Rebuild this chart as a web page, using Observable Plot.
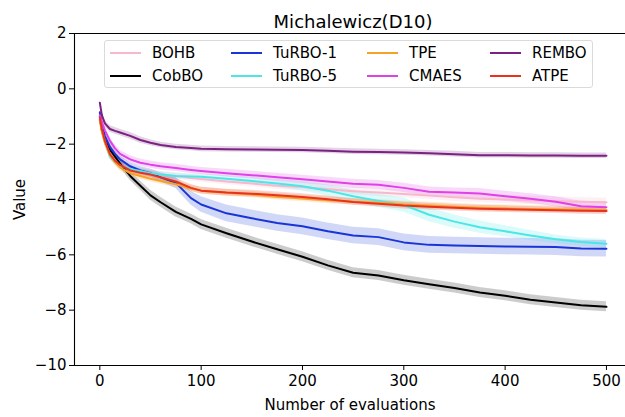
<!DOCTYPE html>
<html>
<head>
<meta charset="utf-8">
<script src="https://cdn.jsdelivr.net/npm/d3@7"></script>
<script src="https://cdn.jsdelivr.net/npm/@observablehq/plot@0.6"></script>
<style>
  body { margin: 0; background: #fff; }
  #wrap { position: relative; width: 625px; height: 417px; font-family: "DejaVu Sans", sans-serif; }
  #legend { position: absolute; left: 104px; top: 40px; width: 487px; height: 46px;
            border: 1px solid #dadada; border-radius: 3px; background: rgba(255,255,255,0.85); }
  .item { position: absolute; height: 20px; display: flex; align-items: center; font-size: 15px; color: #000; }
  .sw { width: 31px; height: 0; border-top: 2px solid; margin-right: 11px; }
</style>
</head>
<body>
<div id="wrap"><div id="chart"></div><div id="legend"></div></div>
<script>
const title = "Michalewicz(D10)";
const xLabel = "Number of evaluations";
const yLabel = "Value";
const xTicks = [0, 100, 200, 300, 400, 500];
const yTicks = [-10, -8, -6, -4, -2, 0, 2];

const seriesNames = ["BOHB", "CobBO", "TuRBO-1", "TuRBO-5", "TPE", "CMAES", "REMBO", "ATPE"];
const seriesColors = ["#f7b8cb", "#000000", "#1a35d6", "#4ce6e6", "#f5a228", "#e040e8", "#7a2182", "#e8321e"];

const evals = [0, 2, 5, 10, 15, 20, 30, 40, 50, 60, 75, 90, 100, 125, 150, 175, 200, 225, 250, 275, 300, 325, 350, 375, 400, 425, 450, 475, 500];

const bohb   = [-1.1, -1.5, -1.9, -2.35, -2.6, -2.75, -2.9, -3.0, -3.05, -3.1, -3.15, -3.22, -3.26, -3.35, -3.42, -3.5, -3.55, -3.63, -3.7, -3.75, -3.8, -3.86, -3.92, -3.97, -4.0, -4.03, -4.06, -4.08, -4.1];
const cobbo  = [-1.0, -1.5, -1.85, -2.2, -2.45, -2.7, -3.15, -3.5, -3.85, -4.1, -4.45, -4.7, -4.9, -5.22, -5.52, -5.8, -6.07, -6.38, -6.65, -6.75, -6.92, -7.06, -7.2, -7.36, -7.48, -7.62, -7.72, -7.82, -7.88];
const turbo1 = [-0.85, -1.3, -1.7, -2.1, -2.35, -2.55, -2.8, -2.95, -3.05, -3.2, -3.4, -3.95, -4.18, -4.5, -4.68, -4.85, -4.97, -5.15, -5.3, -5.36, -5.55, -5.64, -5.66, -5.68, -5.7, -5.71, -5.72, -5.77, -5.78];
const turbo5 = [-1.1, -1.5, -1.9, -2.45, -2.65, -2.78, -2.9, -2.97, -3.05, -3.1, -3.15, -3.17, -3.18, -3.25, -3.33, -3.42, -3.52, -3.68, -3.88, -4.05, -4.2, -4.55, -4.8, -5.0, -5.15, -5.3, -5.44, -5.54, -5.6];
const tpe    = [-1.15, -1.55, -1.95, -2.4, -2.65, -2.85, -3.05, -3.15, -3.25, -3.33, -3.45, -3.6, -3.68, -3.76, -3.82, -3.9, -3.96, -4.03, -4.08, -4.12, -4.18, -4.22, -4.26, -4.3, -4.32, -4.34, -4.35, -4.37, -4.38];
const cmaes  = [-0.95, -1.2, -1.5, -1.88, -2.15, -2.35, -2.55, -2.67, -2.74, -2.8, -2.86, -2.93, -2.97, -3.05, -3.12, -3.2, -3.27, -3.35, -3.43, -3.47, -3.58, -3.72, -3.75, -3.78, -3.88, -3.97, -4.08, -4.24, -4.28];
const rembo  = [-0.5, -0.95, -1.25, -1.45, -1.52, -1.58, -1.7, -1.85, -1.95, -2.03, -2.1, -2.14, -2.17, -2.18, -2.19, -2.2, -2.21, -2.24, -2.27, -2.28, -2.3, -2.33, -2.36, -2.4, -2.4, -2.41, -2.41, -2.42, -2.42];
const atpe   = [-1.05, -1.45, -1.88, -2.36, -2.6, -2.75, -2.95, -3.03, -3.1, -3.2, -3.35, -3.58, -3.68, -3.75, -3.79, -3.85, -3.91, -3.99, -4.09, -4.15, -4.22, -4.26, -4.3, -4.33, -4.35, -4.37, -4.39, -4.41, -4.42];

// half-width of the shaded band (standard error) at each evaluation count
const bohbErr   = [0.05, 0.1, 0.12, 0.12, 0.12, 0.12, 0.12, 0.12, 0.12, 0.12, 0.12, 0.12, 0.12, 0.12, 0.12, 0.13, 0.13, 0.13, 0.14, 0.14, 0.14, 0.14, 0.15, 0.15, 0.15, 0.15, 0.15, 0.15, 0.15];
const cobboErr  = [0.05, 0.1, 0.12, 0.14, 0.15, 0.15, 0.16, 0.17, 0.18, 0.18, 0.18, 0.18, 0.18, 0.18, 0.18, 0.18, 0.18, 0.18, 0.18, 0.18, 0.18, 0.18, 0.18, 0.18, 0.18, 0.18, 0.18, 0.18, 0.18];
const turbo1Err = [0.05, 0.1, 0.12, 0.12, 0.12, 0.12, 0.13, 0.14, 0.15, 0.17, 0.2, 0.25, 0.28, 0.3, 0.3, 0.3, 0.3, 0.3, 0.3, 0.3, 0.3, 0.3, 0.3, 0.3, 0.3, 0.3, 0.3, 0.3, 0.3];
const turbo5Err = [0.05, 0.1, 0.12, 0.12, 0.1, 0.1, 0.1, 0.1, 0.1, 0.1, 0.1, 0.1, 0.1, 0.12, 0.13, 0.15, 0.17, 0.2, 0.22, 0.24, 0.25, 0.25, 0.24, 0.22, 0.2, 0.18, 0.16, 0.15, 0.15];
const tpeErr    = [0.05, 0.1, 0.12, 0.12, 0.12, 0.12, 0.12, 0.12, 0.12, 0.12, 0.12, 0.12, 0.12, 0.12, 0.12, 0.12, 0.12, 0.12, 0.12, 0.12, 0.12, 0.12, 0.12, 0.12, 0.12, 0.12, 0.12, 0.12, 0.12];
const cmaesErr  = [0.05, 0.1, 0.12, 0.13, 0.13, 0.13, 0.13, 0.13, 0.13, 0.13, 0.13, 0.13, 0.13, 0.14, 0.14, 0.15, 0.15, 0.15, 0.16, 0.16, 0.17, 0.17, 0.17, 0.18, 0.18, 0.18, 0.18, 0.18, 0.18];
const remboErr  = [0.05, 0.1, 0.12, 0.12, 0.12, 0.12, 0.12, 0.12, 0.11, 0.1, 0.1, 0.1, 0.1, 0.1, 0.1, 0.1, 0.1, 0.1, 0.1, 0.1, 0.1, 0.1, 0.1, 0.1, 0.1, 0.1, 0.1, 0.1, 0.1];
const atpeErr   = [0.05, 0.1, 0.12, 0.12, 0.12, 0.12, 0.12, 0.12, 0.12, 0.12, 0.12, 0.12, 0.12, 0.12, 0.12, 0.12, 0.12, 0.12, 0.12, 0.12, 0.12, 0.12, 0.12, 0.12, 0.12, 0.12, 0.12, 0.12, 0.12];

const means = [bohb, cobbo, turbo1, turbo5, tpe, cmaes, rembo, atpe];
const errs  = [bohbErr, cobboErr, turbo1Err, turbo5Err, tpeErr, cmaesErr, remboErr, atpeErr];

const rows = [];
seriesNames.forEach((name, i) => {
  evals.forEach((x, j) => {
    rows.push({name, x, y: means[i][j], lo: means[i][j] - errs[i][j], hi: means[i][j] + errs[i][j]});
  });
});

const fmt = d => d < 0 ? "\u2212" + Math.abs(d) : String(d);

const chart = Plot.plot({
  width: 625,
  height: 417,
  marginLeft: 74,
  marginRight: 0,
  marginTop: 33,
  marginBottom: 52,
  style: {fontFamily: "DejaVu Sans, sans-serif", fontSize: "15px", color: "#000", background: "#fff", overflow: "visible"},
  x: {domain: [-25, 518.8], ticks: xTicks, tickFormat: fmt, tickSize: 5, tickPadding: 5, label: xLabel, labelAnchor: "center", labelArrow: "none", labelOffset: 44},
  y: {domain: [-10, 2], ticks: yTicks, tickFormat: fmt, tickSize: 5, tickPadding: 3, label: yLabel, labelAnchor: "center", labelArrow: "none", labelOffset: 60},
  color: {domain: seriesNames, range: seriesColors},
  marks: [
    Plot.areaY(rows, {x: "x", y1: "lo", y2: "hi", z: "name", fill: "name", fillOpacity: 0.2}),
    Plot.line(rows, {x: "x", y: "y", z: "name", stroke: "name", strokeWidth: 2}),
    Plot.ruleY([yTicks[0], yTicks[yTicks.length - 1]], {stroke: "#000", strokeWidth: 1.1}),
    Plot.ruleX([-25], {stroke: "#000", strokeWidth: 1.1}),
    Plot.text([title], {frameAnchor: "top", dy: -18, dx: 3, fontSize: 18, fill: "#000"})
  ]
});
document.getElementById("chart").appendChild(chart);

// legend (matplotlib style, 4 columns x 2 rows, column-major order)
const legend = document.getElementById("legend");
const colLeft = [5, 126, 262, 385];
const rowTop = [2, 25];
seriesNames.forEach((name, i) => {
  const c = Math.floor(i / 2), r = i % 2;
  const div = document.createElement("div");
  div.className = "item";
  div.style.left = colLeft[c] + "px";
  div.style.top = rowTop[r] + "px";
  const sw = document.createElement("span");
  sw.className = "sw";
  sw.style.borderTopColor = seriesColors[i];
  const lab = document.createElement("span");
  lab.textContent = name;
  div.appendChild(sw);
  div.appendChild(lab);
  legend.appendChild(div);
});
</script>
</body>
</html>
